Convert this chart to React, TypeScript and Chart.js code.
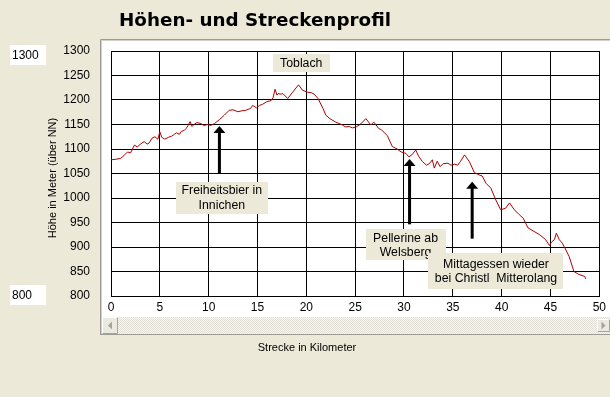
import { useEffect, useRef } from 'react';
import { Chart, registerables } from 'chart.js';

Chart.register(...registerables);

// ---- data ----
const distanceKm = [
  0.0, 0.5, 1.0, 1.4, 1.7, 2.0, 2.4, 2.7, 3.0, 3.4, 3.7, 3.9, 4.2, 4.5, 4.8, 5.0, 5.2, 5.5, 5.9, 6.2,
  6.5, 6.7, 7.0, 7.2, 7.5, 7.7, 7.9, 8.1, 8.3, 8.5, 8.8, 9.2, 9.5, 9.9, 10.2, 10.6, 11.1, 11.6, 12.1, 12.5,
  13.0, 13.4, 13.8, 14.3, 14.5, 14.9, 15.2, 15.5, 15.9, 16.4, 16.6, 16.8, 17.0, 17.1, 17.4, 17.6, 18.1, 18.6, 19.2, 19.6,
  20.1, 20.5, 20.8, 21.2, 21.7, 22.0, 22.4, 23.0, 23.7, 24.0, 24.4, 24.7, 25.1, 25.5, 26.1, 26.6, 26.9, 27.1, 27.4, 27.7,
  28.3, 28.8, 29.3, 29.7, 30.2, 30.5, 30.8, 31.2, 31.5, 31.9, 32.3, 32.6, 32.9, 33.1, 33.4, 33.7, 34.0, 34.5, 34.8, 35.2,
  35.5, 35.8, 36.2, 36.7, 37.2, 37.7, 38.0, 38.4, 38.9, 39.4, 39.9, 40.4, 40.8, 41.3, 41.8, 42.2, 42.7, 43.3, 43.9, 44.5,
  44.9, 45.1, 45.4, 45.6, 45.9, 46.2, 46.4, 46.9, 47.4, 47.9, 48.5, 48.6,
];
const elevationM = [
  1078, 1079, 1081, 1088, 1094, 1092, 1108, 1104, 1110, 1115, 1110, 1112, 1122, 1125, 1120, 1135, 1124, 1120, 1124, 1126,
  1130, 1133, 1130, 1136, 1138, 1142, 1148, 1156, 1146, 1150, 1154, 1152, 1148, 1150, 1148, 1152, 1160, 1169, 1179, 1180,
  1176, 1178, 1179, 1183, 1189, 1184, 1189, 1191, 1196, 1199, 1205, 1222, 1210, 1213, 1212, 1213, 1203, 1216, 1231, 1220,
  1216, 1215, 1212, 1203, 1183, 1169, 1162, 1155, 1149, 1145, 1146, 1143, 1145, 1150, 1162, 1149, 1155, 1150, 1142, 1139,
  1127, 1105, 1100, 1094, 1091, 1084, 1088, 1098, 1085, 1074, 1067, 1070, 1078, 1061, 1075, 1064, 1070, 1071, 1067, 1069,
  1067, 1075, 1088, 1074, 1052, 1047, 1045, 1030, 1020, 996, 976, 979, 990, 976, 966, 959, 939, 932, 925, 915,
  903, 910, 915, 928, 915, 908, 901, 881, 850, 844, 840, 835,
];

const X_MIN = 0;
const X_MAX = 50;
const X_STEP = 5;
const Y_MIN = 800;
const Y_MAX = 1300;
const Y_STEP = 50;

const titleText = 'Höhen- und Streckenprofil';
const xAxisTitle = 'Strecke in Kilometer';
const yAxisTitle = 'Höhe in Meter (über NN)';
const sideTop = '1300';
const sideBottom = '800';

const noteLines = [
  ['Toblach'],
  ['Freiheitsbier in', 'Innichen'],
  ['Pellerine ab', 'Welsberg'],
  ['Mittagessen wieder', 'bei Christl  Mitterolang'],
];
const noteKm = [19.48, 11.35, 30.16, 39.42];
const noteElev = [1274.5, 1000.6, 904.5, 851.4];
const noteW = [57, 92, 80, 135];
const noteH = [18, 32, 31, 36];

const arrowKm = [11.1, 30.57, 36.98];
const arrowTip = [1147, 1079.6, 1033];
const arrowTail = [1049, 946.3, 917];

const BEIGE = '#ECE9D8';
const FONT = "'Liberation Sans', Arial, sans-serif";

function drawButton(ctx: CanvasRenderingContext2D, x: number, y: number, w: number, h: number, dir: number) {
  ctx.fillStyle = '#ECEAE0';
  ctx.fillRect(x, y, w, h);
  ctx.strokeStyle = '#FFFFFF';
  ctx.lineWidth = 1;
  ctx.beginPath();
  ctx.moveTo(x + 0.5, y + h - 0.5);
  ctx.lineTo(x + 0.5, y + 0.5);
  ctx.lineTo(x + w - 0.5, y + 0.5);
  ctx.stroke();
  ctx.strokeStyle = '#A6A49A';
  ctx.beginPath();
  ctx.moveTo(x + w - 0.5, y + 0.5);
  ctx.lineTo(x + w - 0.5, y + h - 0.5);
  ctx.lineTo(x + 0.5, y + h - 0.5);
  ctx.stroke();
  ctx.fillStyle = '#A3A3A3';
  const cx = x + w / 2;
  const cy = y + h / 2;
  ctx.beginPath();
  ctx.moveTo(cx - 2 * dir, cy);
  ctx.lineTo(cx + 2 * dir, cy - 4);
  ctx.lineTo(cx + 2 * dir, cy + 4);
  ctx.closePath();
  ctx.fill();
}

const decorPlugin = {
  id: 'decor',
  beforeDraw(chart: any) {
    const ctx: CanvasRenderingContext2D = chart.ctx;
    const W = chart.width;
    const H = chart.height;
    ctx.save();
    ctx.fillStyle = BEIGE;
    ctx.fillRect(0, 0, W, H);

    // white panel
    ctx.fillStyle = '#FFFFFF';
    ctx.fillRect(100, 40, W - 100, 294);
    ctx.strokeStyle = '#9D9C94';
    ctx.lineWidth = 1;
    ctx.beginPath();
    ctx.moveTo(100.5, 334);
    ctx.lineTo(100.5, 39.5);
    ctx.lineTo(W, 39.5);
    ctx.stroke();
    ctx.strokeStyle = '#D4D0C8';
    ctx.beginPath();
    ctx.moveTo(101.5, 334);
    ctx.lineTo(101.5, 40.5);
    ctx.lineTo(W, 40.5);
    ctx.stroke();

    // scrollbar track
    const pc = document.createElement('canvas');
    pc.width = 2;
    pc.height = 2;
    const pctx = pc.getContext('2d')!;
    pctx.fillStyle = '#F7F6F1';
    pctx.fillRect(0, 0, 2, 2);
    pctx.fillStyle = '#E2E0D6';
    pctx.fillRect(0, 0, 1, 1);
    pctx.fillRect(1, 1, 1, 1);
    const pat = ctx.createPattern(pc, 'repeat');
    if (pat) ctx.fillStyle = pat;
    ctx.fillRect(102, 317, W - 102, 17);
    drawButton(ctx, 102, 317, 16, 17, 1);
    drawButton(ctx, W - 13, 319, 13, 13, -1);
    ctx.strokeStyle = '#9D9C94';
    ctx.beginPath();
    ctx.moveTo(100, 334.5);
    ctx.lineTo(W, 334.5);
    ctx.stroke();

    // title
    ctx.fillStyle = '#000000';
    ctx.font = "bold 18px 'DejaVu Sans', sans-serif";
    ctx.textBaseline = 'alphabetic';
    ctx.textAlign = 'left';
    const tw = ctx.measureText(titleText).width;
    ctx.save();
    ctx.translate(119, 26);
    ctx.scale(272 / tw, 1);
    ctx.fillText(titleText, 0, 0);
    ctx.restore();

    // side boxes
    ctx.fillStyle = '#FFFFFF';
    ctx.fillRect(10, 45, 36, 20);
    ctx.fillRect(10, 285, 36, 20);
    ctx.fillStyle = '#000000';
    ctx.font = `12px ${FONT}`;
    ctx.textBaseline = 'middle';
    ctx.fillText(sideTop, 12, 55.5);
    ctx.fillText(sideBottom, 12, 295.5);

    // axis titles
    ctx.font = `11px ${FONT}`;
    ctx.textAlign = 'center';
    ctx.fillText(xAxisTitle, 307, 348);
    ctx.save();
    ctx.translate(53, 178);
    ctx.rotate(-Math.PI / 2);
    ctx.fillText(yAxisTitle, 0, 0);
    ctx.restore();
    ctx.restore();
  },
  afterDraw(chart: any) {
    const ctx: CanvasRenderingContext2D = chart.ctx;
    const xs = chart.scales.x;
    const ys = chart.scales.y;
    ctx.save();
    // notes
    ctx.font = `12.3px ${FONT}`;
    ctx.textAlign = 'center';
    ctx.textBaseline = 'middle';
    for (let i = 0; i < noteLines.length; i++) {
      const cx = xs.getPixelForValue(noteKm[i]);
      const cy = ys.getPixelForValue(noteElev[i]);
      ctx.fillStyle = BEIGE;
      ctx.fillRect(Math.round(cx - noteW[i] / 2), Math.round(cy - noteH[i] / 2), noteW[i], noteH[i]);
      ctx.fillStyle = '#000000';
      const n = noteLines[i].length;
      for (let j = 0; j < n; j++) {
        ctx.fillText(noteLines[i][j], cx, cy + (j - (n - 1) / 2) * 14.3 + 0.5);
      }
    }
    // arrows
    ctx.fillStyle = '#000000';
    for (let i = 0; i < arrowKm.length; i++) {
      const x = xs.getPixelForValue(arrowKm[i]);
      const tip = ys.getPixelForValue(arrowTip[i]);
      const tail = ys.getPixelForValue(arrowTail[i]);
      ctx.fillRect(x - 1.5, tip + 6, 3, tail - tip - 6);
      ctx.beginPath();
      ctx.moveTo(x, tip);
      ctx.lineTo(x + 6, tip + 7);
      ctx.lineTo(x - 6, tip + 7);
      ctx.closePath();
      ctx.fill();
    }
    ctx.restore();
  },
};

export default function App() {
  const ref = useRef<HTMLCanvasElement | null>(null);
  useEffect(() => {
    if (!ref.current) return;
    Chart.defaults.font.family = FONT;
    const points = distanceKm.map((x, i) => ({ x, y: elevationM[i] }));
    const chart = new Chart(ref.current, {
      type: 'line',
      data: {
        datasets: [
          {
            data: points,
            borderColor: '#B00000',
            borderWidth: 1,
            pointRadius: 0,
            tension: 0,
            fill: false,
          },
        ],
      },
      options: {
        animation: false,
        responsive: false,
        devicePixelRatio: 1,
        layout: { padding: { top: 51, right: 10, left: 0, bottom: 0 } },
        plugins: { legend: { display: false }, tooltip: { enabled: false }, title: { display: false } },
        scales: {
          x: {
            type: 'linear',
            min: X_MIN,
            max: X_MAX,
            ticks: {
              stepSize: X_STEP,
              color: '#000',
              font: { size: 12 },
              padding: 4,
              maxRotation: 0,
              callback: (v: any) => String(v),
            },
            grid: { color: '#000', lineWidth: 1, drawTicks: false },
            border: { display: true, color: '#000', width: 1 },
            afterFit: (s: any) => {
              s.height = 101;
            },
          },
          y: {
            type: 'linear',
            min: Y_MIN,
            max: Y_MAX,
            ticks: {
              stepSize: Y_STEP,
              color: '#000',
              font: { size: 12 },
              padding: 21,
              callback: (v: any) => String(v),
            },
            grid: { color: '#000', lineWidth: 1, drawTicks: false },
            border: { display: true, color: '#000', width: 1 },
            afterFit: (s: any) => {
              s.width = 111;
            },
          },
        },
      },
      plugins: [decorPlugin],
    });
    return () => chart.destroy();
  }, []);
  return (
    <div style={{ position: 'absolute', left: 0, top: 0, width: 610, height: 397, background: BEIGE }}>
      <canvas ref={ref} width={610} height={397} style={{ display: 'block' }} />
    </div>
  );
}
